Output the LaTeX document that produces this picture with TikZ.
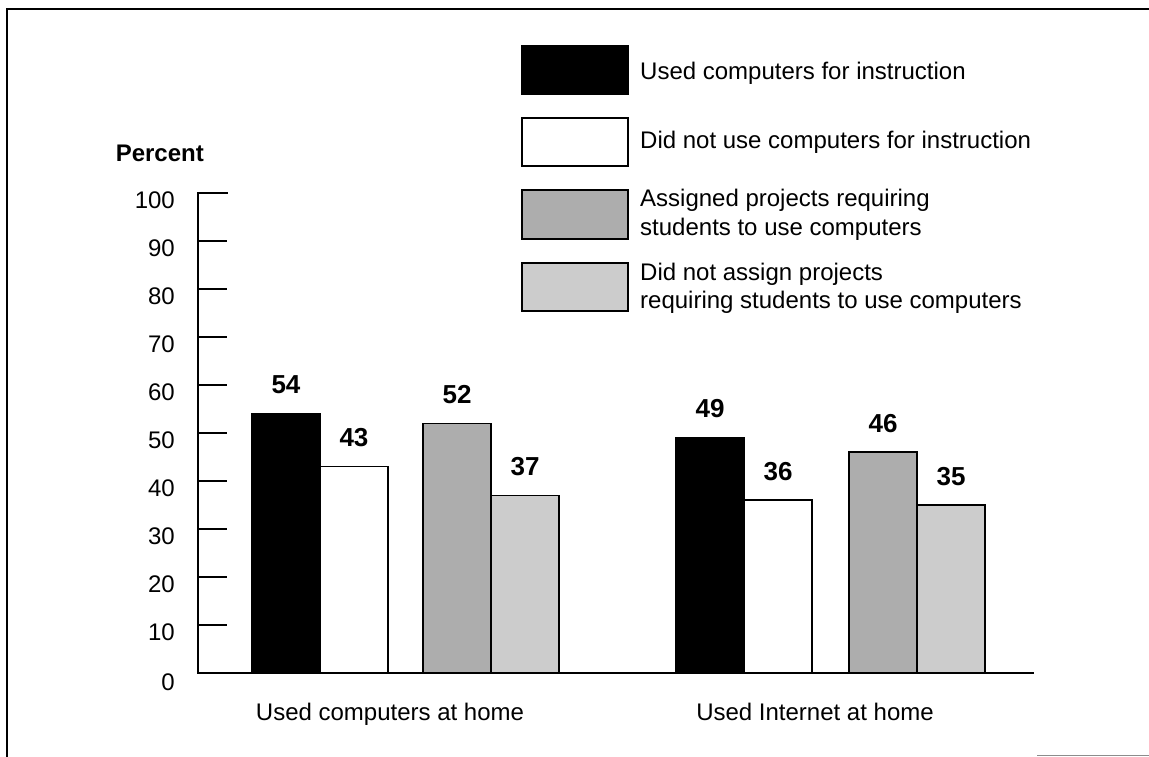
\documentclass[tikz,border=0pt]{standalone}
\usepackage{fontspec}
\setmainfont{Liberation Sans}
\definecolor{assigncol}{gray}{0.68}
\definecolor{noassigncol}{gray}{0.80}
\begin{document}
\begin{tikzpicture}[x=1pt,y=-1pt,
  txt/.style={font=\fontsize{24}{28}\selectfont, inner sep=0pt},
  val/.style={font=\fontsize{26}{30}\selectfont\bfseries, inner sep=0pt, anchor=base},
  ticklab/.style={font=\fontsize{24}{28}\selectfont, inner sep=0pt, anchor=east},
  barused/.style={draw=black, line width=1.5pt, fill=black},
  barnot/.style={draw=black, line width=1.5pt, fill=white},
  barassign/.style={draw=black, line width=1.5pt, fill=assigncol},
  barnoassign/.style={draw=black, line width=1.5pt, fill=noassigncol},
  axisline/.style={line width=2.5pt, line cap=rect},
  tickline/.style={line width=2.5pt}
]
\useasboundingbox (0,0) rectangle (1149,757);
% frame
\draw[line width=1.5pt] (7,757) -- (7,9) -- (1149,9);
\draw[line width=1pt, black!45] (1037,755) -- (1149,755);

% legend
\draw[barused] (522,46) rectangle (628,94);
\node[txt, anchor=base west] (lg1) at (640,80) {Used computers for instruction};
\draw[barnot] (522,118) rectangle (628,166);
\node[txt, anchor=base west] (lg2) at (640,149) {Did not use computers for instruction};
\draw[barassign] (522,190) rectangle (628,239);
\node[txt, anchor=base west] (lg3a) at (640,207) {Assigned projects requiring};
\node[txt, anchor=base west] (lg3b) at (640,235) {students to use computers};
\draw[barnoassign] (522,263) rectangle (628,311);
\node[txt, anchor=base west] (lg4a) at (640,280) {Did not assign projects};
\node[txt, anchor=base west] (lg4b) at (640,308) {requiring students to use computers};

% axis title
\node[txt, font=\fontsize{24}{28}\selectfont\bfseries, anchor=base east] (ptitle) at (204,162) {Percent};

% ticks and labels
\foreach \v in {10,20,...,90} {
  \draw[tickline] (198,{673-4.8*\v}) -- (227,{673-4.8*\v});
}
\foreach \v in {10,20,...,100} {
  \node[ticklab] (t\v) at (175,{680-4.8*\v}) {\v};
}
\node[ticklab] (t0) at (175,682) {0};

% bars group 1
\draw[barused] (252,673) rectangle (320,{673-4.8*54});
\draw[barnot] (320,673) rectangle (388,{673-4.8*43});
\draw[barassign] (423,673) rectangle (491,{673-4.8*52});
\draw[barnoassign] (491,673) rectangle (559,{673-4.8*37});
% bars group 2
\draw[barused] (676,673) rectangle (744,{673-4.8*49});
\draw[barnot] (744,673) rectangle (812,{673-4.8*36});
\draw[barassign] (849,673) rectangle (917,{673-4.8*46});
\draw[barnoassign] (917,673) rectangle (985,{673-4.8*35});

% value labels
\node[val] (v54) at (286,{653-4.8*54}) {54};
\node[val] (v43) at (354,{653-4.8*43}) {43};
\node[val] (v52) at (457,{653-4.8*52}) {52};
\node[val] (v37) at (525,{653-4.8*37}) {37};
\node[val] (v49) at (710,{653-4.8*49}) {49};
\node[val] (v36) at (778,{653-4.8*36}) {36};
\node[val] (v46) at (883,{653-4.8*46}) {46};
\node[val] (v35) at (951,{653-4.8*35}) {35};

% axes
\draw[axisline] (227,193) -- (198,193) -- (198,673) -- (1033,673);

% category labels
\node[txt, anchor=base] (c1) at (390,720) {Used computers at home};
\node[txt, anchor=base] (c2) at (815,720) {Used Internet at home};
\end{tikzpicture}
\end{document}
